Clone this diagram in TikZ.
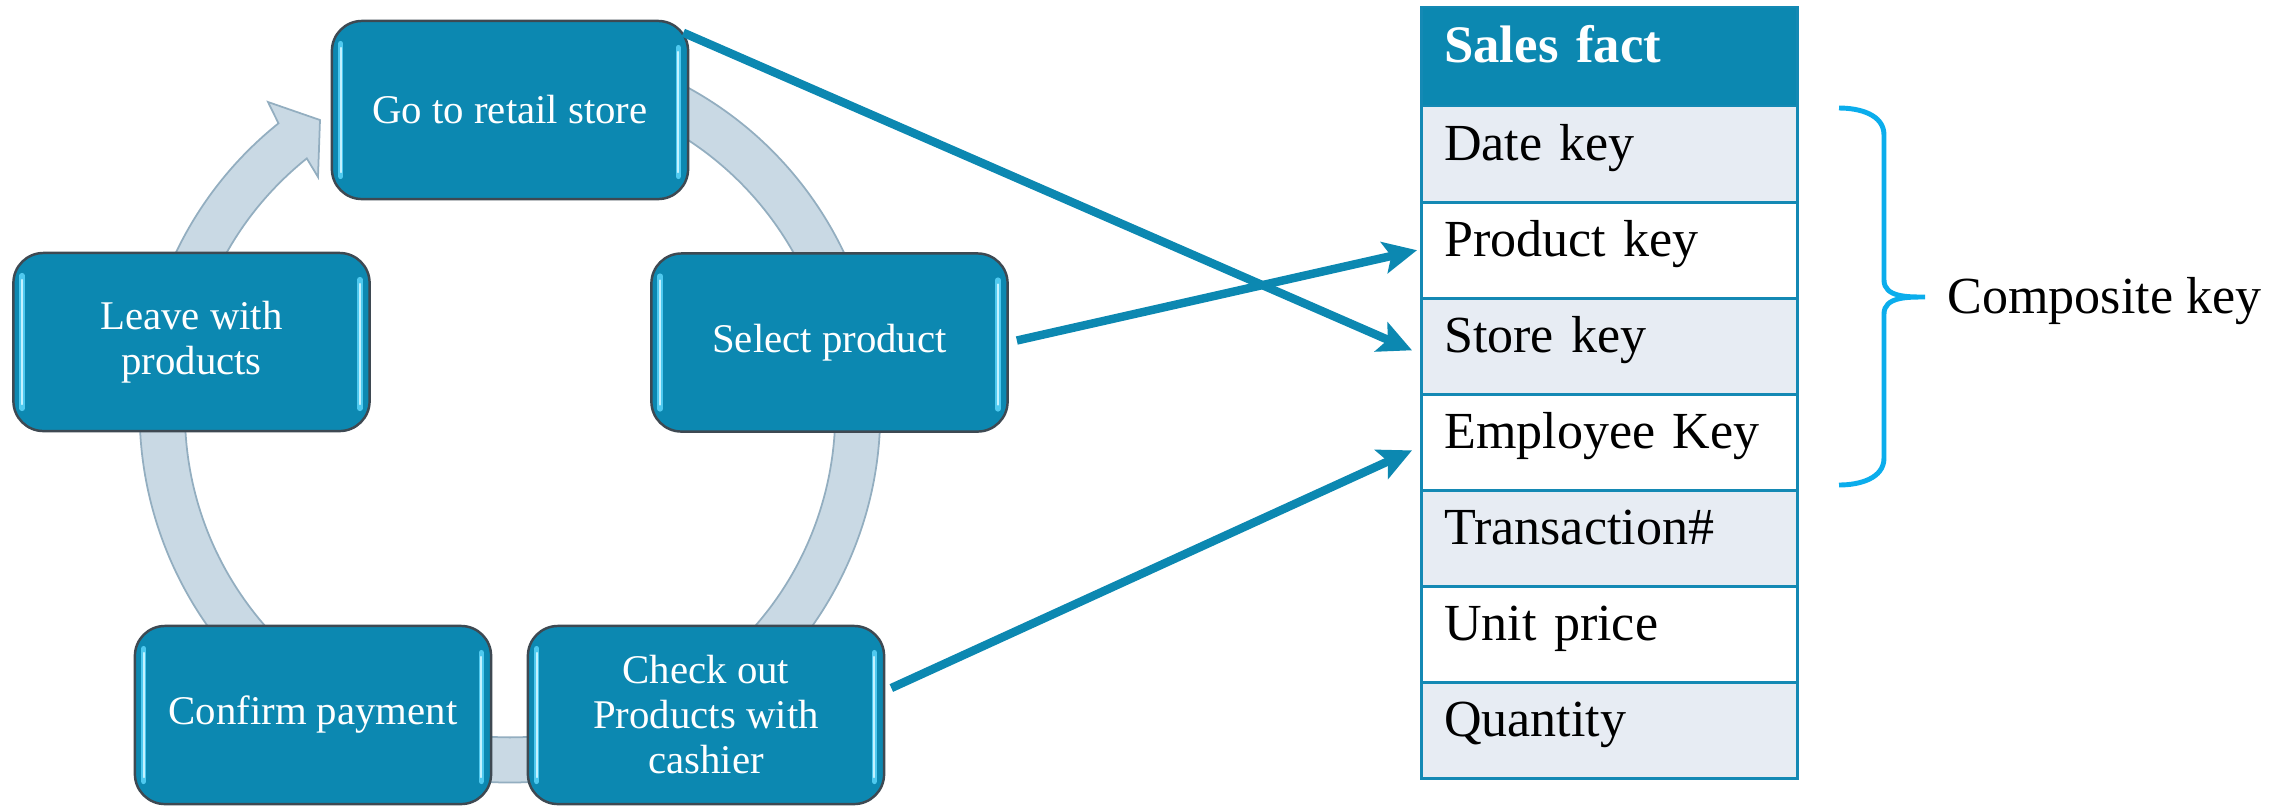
\documentclass[tikz,border=0pt]{standalone}
\usepackage{fontspec}
\setmainfont{Liberation Serif}
\usetikzlibrary{arrows.meta,calc}
\definecolor{boxblue}{HTML}{0C88B1}
\definecolor{boxedge}{HTML}{3E4952}
\definecolor{hlcyan}{HTML}{4FC9EF}
\definecolor{hlcore}{HTML}{C4F2FF}
\definecolor{ringfill}{HTML}{C9D9E4}
\definecolor{ringedge}{HTML}{93AEC0}
\definecolor{rowgray}{HTML}{E7ECF3}
\definecolor{tableline}{HTML}{1489B4}
\definecolor{bracecol}{HTML}{0BADEC}
\begin{document}
\begin{tikzpicture}[x=0.01cm,y=0.01cm,
  cyclebox/.style={draw=boxedge, line width=0.7pt, fill=boxblue, rounded corners=0.3cm,
    minimum width=3.56cm, minimum height=1.78cm, text=white, align=center,
    font=\fontsize{11.6}{12.8}\selectfont, inner sep=0pt},
  hl/.style={line width=1.6pt, hlcyan, line cap=round},
  hlc/.style={line width=0.5pt, hlcore, line cap=round},
  factrow/.style={draw=tableline, line width=0.8pt, minimum width=3.76cm, minimum height=0.961cm,
    text width=94pt, inner xsep=6.3pt, inner ysep=0pt, align=left,
    text height=10pt, text depth=6.6pt, font=\fontsize{14.8}{16}\selectfont},
  factarrow/.style={draw=boxblue, line width=2.4pt, -{Stealth[length=9.5pt,width=9pt,inset=2pt]}},
  brace/.style={draw=bracecol, line width=1.4pt}
]
\useasboundingbox (0,0) rectangle (2281,-805);

% cycle ring with arrowhead
\filldraw[fill=ringfill, draw=ringedge, line width=0.5pt]
  (666.4,-76.7) arc[start angle=65, end angle=-231.3, radius=3.7cm]
  -- (268,-102) -- (320,-120) -- (318,-177) -- (306.8,-158.4)
  arc[start angle=-231.3, end angle=65, radius=3.25cm] -- cycle;

% cycle boxes
\node[cyclebox] (go)    at (510,-110)   {Go to retail store};
\node[cyclebox] (sel)   at (829.5,-342.5) {Select product};
\node[cyclebox] (leave) at (191.5,-342) {Leave with\\products};
\node[cyclebox] (conf)  at (313,-715)   {Confirm payment};
\node[cyclebox] (chk)   at (706,-715)   {Check out\\Products with\\cashier};

\foreach \b in {go,sel,leave,conf,chk}{
  \draw[hl]  ($(\b.north west)+(10,-24)$) -- ($(\b.south west)+(10,24)$);
  \draw[hlc] ($(\b.north west)+(10,-28)$) -- ($(\b.south west)+(10,28)$);
  \draw[hl]  ($(\b.north east)+(-11,-28)$) -- ($(\b.south east)+(-11,24)$);
  \draw[hlc] ($(\b.north east)+(-11,-32)$) -- ($(\b.south east)+(-11,28)$);
}

% fact table
\node[factrow, fill=boxblue, minimum height=0.99cm, text=white,
      font=\bfseries\fontsize{15}{16}\selectfont] (hd) at (1609.5,-56.5) {Sales fact};
\node[factrow, fill=rowgray] (r1) at (1609.5,-154.1) {Date key};
\node[factrow, fill=white]   (r2) at (1609.5,-250.2) {Product key};
\node[factrow, fill=rowgray] (r3) at (1609.5,-346.3) {Store key};
\node[factrow, fill=white]   (r4) at (1609.5,-442.4) {Employee Key};
\node[factrow, fill=rowgray] (r5) at (1609.5,-538.6) {Transaction\#};
\node[factrow, fill=white]   (r6) at (1609.5,-634.7) {Unit price};
\node[factrow, fill=rowgray] (r7) at (1609.5,-730.8) {Quantity};

% brace and label
\draw[brace] (1839,-108) to[out=0,in=90] (1884,-135) -- (1884,-280)
  to[out=-90,in=180] (1925,-297) to[out=180,in=90] (1884,-314) -- (1884,-458)
  to[out=-90,in=0] (1839,-485);
\node[anchor=base west, inner sep=0pt, font=\fontsize{14.8}{16}\selectfont] (ck) at (1947,-313) {Composite key};

% connectors
\draw[factarrow] ($(go.north east)+(-6,-13)$) -- ($(r3.west)+(-8,-4)$);
\draw[factarrow] ($(sel.east)+(8,2)$) -- ($(r2.west)+(-3,0)$);
\draw[factarrow] ($(chk.east)+(6,27)$) -- ($(r4.west)+(-8,-8)$);
\end{tikzpicture}
\end{document}
